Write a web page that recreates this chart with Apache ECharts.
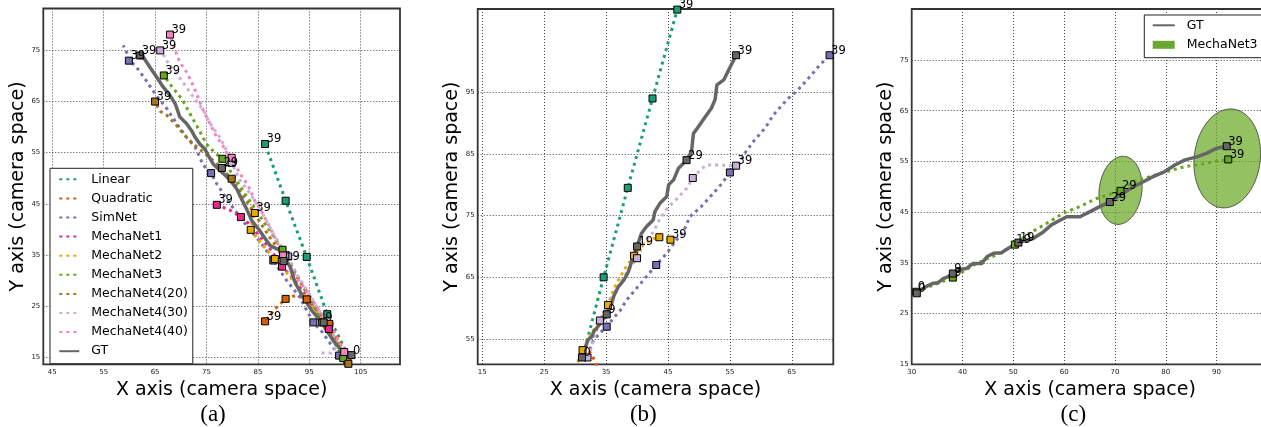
<!DOCTYPE html>
<html><head><meta charset="utf-8">
<script src="https://cdn.jsdelivr.net/npm/echarts@6/dist/echarts.min.js"></script>
<style>html,body{margin:0;padding:0;background:#fff}#c{width:1261px;height:427px}</style>
</head><body><div id="c"></div>
<script>
// ================= DATA =================
const seriesNames = ['Linear','Quadratic','SimNet','MechaNet1','MechaNet2','MechaNet3','MechaNet4(20)','MechaNet4(30)','MechaNet4(40)','GT'];
const panelCaptions = ['(a)','(b)','(c)'];
const xTitle = 'X axis (camera space)';
const yTitle = 'Y axis (camera space)';

// axis ranges and tick labels
const aXRange = [43.25, 112.65], aYRange = [13.6, 83.2];
const bXRange = [14.26, 71.7],  bYRange = [50.9, 108.5];
const cXRange = [30, 100.2],    cYRange = [15, 85.06];
const aXTicks = [45,55,65,75,85,95,105], aYTicks = [15,25,35,45,55,65,75];
const bXTicks = [15,25,35,45,55,65],     bYTicks = [55,65,75,85,95];
const cXTicks = [30,40,50,60,70,80,90],  cYTicks = [15,25,35,45,55,65,75];

// ---- panel (a): paths [x,y] and frame markers [x,y,frame]
const a_Linear_path = [[102.6,15.2],[100.6,19.3],[98.5,23.4],[94.5,34.6],[90.4,45.6],[86.4,56.7]];
const a_Linear_marks = [[98.5,23.4,9],[94.5,34.6,19],[90.4,45.6,29],[86.4,56.7,39]];
const a_Quadratic_path = [[102.5,15.0],[100.8,18.3],[98.9,21.5],[96.7,24.2],[94.5,26.3],[92.4,27.1],[90.4,26.4],[88.4,24.5],[86.4,22.0]];
const a_Quadratic_marks = [[98.9,21.5,9],[94.5,26.3,19],[90.4,26.4,29],[86.4,22.0,39]];
const a_SimNet_path = [[100.8,15.3],[99.2,17.5],[97.6,19.8],[95.8,21.8],[94.3,24.5],[93.2,26.7],[90.6,30.0],[88.0,33.9],[85.7,37.2],[82.5,41.1],[79.6,45.0],[77.0,48.9],[75.9,51.0],[74.4,52.5],[72.8,56.1],[71.1,58.0],[69.2,60.7],[67.3,63.6],[65.0,66.5],[63.0,69.5],[61.1,72.1],[59.9,73.0],[59.6,74.3],[58.8,76.0]];
const a_SimNet_marks = [[100.8,15.3,0],[95.8,21.8,9],[88.0,33.9,19],[75.9,51.0,29],[59.9,73.0,39]];
const a_MechaNet1_path = [[102.0,16.0],[100.5,18.2],[98.8,20.5],[96.5,24.0],[94.0,27.5],[91.8,30.5],[89.7,32.7],[87.5,36.0],[85.2,38.8],[83.4,41.0],[81.7,42.4],[79.5,43.8],[77.0,44.8]];
const a_MechaNet1_marks = [[98.8,20.5,9],[89.7,32.7,19],[81.7,42.4,29],[77.0,44.8,39]];
const a_MechaNet2_path = [[102.4,14.3],[100.6,17.6],[98.6,20.8],[96.4,23.8],[94.0,27.0],[91.2,30.8],[88.3,34.2],[86.0,36.8],[83.6,39.9],[83.9,41.5],[84.4,43.2]];
const a_MechaNet2_marks = [[102.4,14.3,0],[88.3,34.2,19],[83.6,39.9,29],[84.4,43.2,39]];
const a_MechaNet3_path = [[101.6,14.8],[99.7,18.2],[97.5,21.8],[95.2,26.2],[92.6,31.0],[89.8,36.0],[86.2,41.4],[82.2,47.4],[78.1,53.8],[76.6,55.0],[75.0,56.7],[73.4,59.7],[71.8,62.6],[70.2,65.5],[68.2,68.0],[66.7,70.1]];
const a_MechaNet3_marks = [[101.6,14.8,0],[97.5,21.8,9],[89.8,36.0,19],[78.1,53.8,29],[66.7,70.1,39]];
const a_MechaNet4_20_path = [[102.6,13.7],[100.6,17.8],[98.3,21.8],[95.6,26.0],[93.0,30.0],[90.3,34.6],[87.6,38.0],[85.0,42.0],[82.5,46.0],[79.9,49.9],[77.3,52.6],[74.4,55.1],[72.4,56.7],[70.5,58.7],[69.2,60.3],[67.3,62.3],[66.0,63.1],[65.0,65.0]];
const a_MechaNet4_20_marks = [[102.6,13.7,0],[79.9,49.9,29],[65.0,65.0,39]];
const a_MechaNet4_30_path = [[97.4,15.8],[99.3,15.8],[100.5,17.3],[99.6,19.5],[97.7,22.8],[95.8,26.0],[93.8,29.3],[92.5,31.3],[90.9,34.7],[88.0,39.1],[86.0,43.0],[83.5,47.0],[81.5,49.6],[79.9,53.0],[78.6,56.1],[77.6,58.0],[75.7,60.7],[74.4,63.3],[72.8,65.4],[71.5,67.2],[70.2,69.1],[67.6,72.4],[66.9,73.7],[66.0,75.0]];
const a_MechaNet4_30_marks = [[90.9,34.7,19],[79.9,53.0,29],[66.0,75.0,39]];
const a_MechaNet4_40_path = [[101.8,16.0],[101.0,17.6],[99.7,20.2],[98.4,22.2],[96.4,24.8],[94.5,28.0],[92.5,30.6],[89.9,34.9],[88.6,37.8],[87.3,40.4],[86.0,43.0],[84.4,45.6],[83.1,48.6],[81.5,50.9],[79.9,54.0],[78.9,55.1],[78.0,56.7],[77.0,58.0],[76.0,60.0],[75.0,62.0],[74.1,63.9],[73.1,66.5],[72.1,68.8],[71.1,70.8],[69.8,72.7],[68.9,75.0],[67.9,78.1]];
const a_MechaNet4_40_marks = [[101.8,16.0,0],[89.9,34.9,19],[79.9,54.0,29],[67.9,78.1,39]];
const a_GT_path = [[103.0,15.2],[102.3,15.6],[101.0,16.6],[99.7,18.2],[98.4,20.2],[97.1,22.2],[95.5,24.1],[93.8,26.7],[92.2,29.7],[91.3,32.6],[89.3,35.9],[87.4,36.8],[86.4,38.2],[85.1,40.1],[83.8,41.7],[82.8,44.0],[81.8,46.0],[80.9,47.9],[79.6,49.6],[78.3,50.9],[76.3,52.8],[75.3,54.5],[74.7,55.7],[73.7,56.7],[72.8,58.0],[72.1,59.3],[71.1,60.7],[69.8,62.0],[69.5,62.9],[68.9,64.6],[67.9,66.2],[66.6,67.8],[65.3,69.8],[64.0,71.7],[62.7,73.7],[62.1,74.0]];
const a_GT_marks = [[103.2,15.4,0],[97.8,21.8,9],[90.0,33.8,19],[78.0,52.0,29],[62.1,74.0,39]];

// ---- panel (b)
const b_Linear_path = [[31.6,53.5],[34.6,65.0],[38.5,79.5],[42.5,94.0],[46.5,108.4]];
const b_Linear_marks = [[34.6,65.0,9],[38.5,79.5,19],[42.5,94.0,29],[46.5,108.4,39]];
const b_Quadratic_path = [[31.6,54.0],[32.3,53.0],[32.9,52.0],[33.4,51.0],[33.9,50.0]];
const b_Quadratic_marks = [];
const b_SimNet_path = [[32.1,52.2],[32.7,54.4],[34.0,56.0],[35.1,57.0],[36.2,58.4],[37.2,59.5],[38.3,61.3],[39.9,63.2],[41.5,65.1],[43.1,67.0],[44.8,68.9],[46.4,71.1],[47.5,72.4],[48.5,74.8],[50.4,76.5],[52.3,78.6],[53.7,80.2],[55.0,82.0],[56.6,83.5],[57.4,85.1],[59.0,87.3],[60.7,89.2],[62.0,91.3],[64.2,93.8],[66.0,95.4],[67.9,97.5],[69.5,99.4],[71.1,101.0]];
const b_SimNet_marks = [[35.1,57.0,9],[43.1,67.0,19],[55.0,82.0,29],[71.1,101.0,39]];
const b_MechaNet2_path = [[30.4,51.2],[31.1,53.2],[32.3,55.3],[33.8,57.8],[35.3,60.5],[36.2,63.0],[37.0,64.6],[38.1,66.5],[39.5,68.5],[40.7,70.0],[41.8,70.8],[42.6,71.3],[43.6,71.5],[44.5,71.5],[45.4,71.1]];
const b_MechaNet2_marks = [[31.2,53.2,0],[35.3,60.5,9],[39.5,68.5,19],[43.6,71.5,29],[45.4,71.1,39]];
const b_MechaNet4_30_path = [[32.0,52.0],[32.6,53.5],[33.0,55.0],[34.0,58.0],[35.5,61.0],[37.2,64.0],[38.8,66.5],[40.0,68.1],[41.2,70.8],[42.6,72.3],[43.7,74.5],[44.8,76.1],[46.4,77.7],[48.0,79.4],[49.0,81.1],[50.2,82.4],[51.2,83.2],[53.4,83.2],[56.0,83.1]];
const b_MechaNet4_30_marks = [[32.0,52.0,0],[34.0,58.0,9],[40.0,68.1,19],[49.0,81.1,29],[56.0,83.1,39]];
const b_GT_path = [[31.1,52.0],[31.3,52.7],[32.1,54.9],[32.7,55.4],[33.0,56.2],[34.0,57.4],[35.1,59.0],[35.9,60.8],[36.3,62.1],[37.0,63.5],[37.9,64.6],[38.6,65.9],[39.1,67.5],[40.0,70.0],[40.7,72.1],[41.5,73.2],[42.6,74.3],[42.9,75.7],[43.7,77.0],[44.8,78.1],[45.1,80.0],[45.9,80.8],[46.7,82.7],[48.0,84.0],[48.8,85.4],[49.1,88.3],[49.9,89.4],[51.0,91.0],[52.0,92.4],[52.6,93.8],[52.9,96.2],[54.0,97.0],[54.8,98.6],[56.0,101.0]];
const b_GT_marks = [[31.1,52.0,0],[35.1,59.0,9],[40.0,70.0,19],[48.0,84.0,29],[56.0,101.0,39]];

// ---- panel (c)
const c_MechaNet3_path = [[30.9,29.3],[38.1,32.1],[42.8,34.9],[47.4,36.9],[50.3,38.6],[52.6,40.5],[56.6,42.8],[59.8,44.8],[63.1,46.1],[66.4,47.7],[71.1,49.2],[73.6,51.0],[76.9,52.0],[80.2,53.0],[83.8,54.0],[86.1,54.3],[88.7,54.8],[92.3,55.4]];
const c_MechaNet3_marks = [[30.9,29.3,0],[38.1,32.1,9],[50.3,38.6,19],[71.1,49.2,29],[92.3,55.4,39]];
const c_GT_path = [[31.0,29.0],[31.6,29.6],[33.0,30.4],[34.3,31.0],[35.2,31.1],[36.2,31.9],[37.2,32.3],[38.1,32.9],[39.5,33.7],[40.8,33.9],[42.1,34.9],[43.8,34.9],[44.8,36.2],[46.1,36.9],[47.7,37.0],[48.7,37.7],[51.0,39.0],[53.9,39.8],[55.9,41.1],[57.5,42.5],[59.2,43.4],[60.5,44.1],[63.1,44.1],[65.1,45.1],[67.0,46.1],[69.0,47.0],[71.6,48.7],[73.6,50.0],[75.6,51.0],[77.5,52.0],[79.8,53.0],[81.8,54.3],[83.8,55.3],[86.1,55.9],[88.0,56.6],[90.0,57.6],[92.0,58.0]];
const c_GT_marks = [[31.0,29.0,0],[38.1,32.9,9],[51.0,39.0,19],[69.0,47.0,29],[92.0,58.0,39]];
// uncertainty ellipses: center x, center y, semi-axis x, semi-axis y, tilt (deg)
const c_ellipseCX = [71.1, 92.1];
const c_ellipseCY = [49.3, 55.6];
const c_ellipseRX = [4.2, 6.5];
const c_ellipseRY = [6.75, 9.8];
const c_ellipseTilt = [-7, -7];

// ================= STYLE =================
const colors = {'Linear':'#1b9e77','Quadratic':'#d95f02','SimNet':'#7570b3','MechaNet1':'#e7298a','MechaNet2':'#e6ab02','MechaNet3':'#66a61e','MechaNet4(20)':'#a6761d','MechaNet4(30)':'#c8b0d8','MechaNet4(40)':'#f781bf','GT':'#666666'};
const FONT = 'DejaVu Sans';

const panels = [
  {labelAll:false, list:[
    ['Linear',a_Linear_path,a_Linear_marks],['Quadratic',a_Quadratic_path,a_Quadratic_marks],['SimNet',a_SimNet_path,a_SimNet_marks],
    ['MechaNet1',a_MechaNet1_path,a_MechaNet1_marks],['MechaNet2',a_MechaNet2_path,a_MechaNet2_marks],['MechaNet3',a_MechaNet3_path,a_MechaNet3_marks],
    ['MechaNet4(20)',a_MechaNet4_20_path,a_MechaNet4_20_marks],['MechaNet4(30)',a_MechaNet4_30_path,a_MechaNet4_30_marks],['MechaNet4(40)',a_MechaNet4_40_path,a_MechaNet4_40_marks],
    ['GT',a_GT_path,a_GT_marks]]},
  {labelAll:false, list:[
    ['Linear',b_Linear_path,b_Linear_marks],['Quadratic',b_Quadratic_path,b_Quadratic_marks],['SimNet',b_SimNet_path,b_SimNet_marks],
    ['MechaNet2',b_MechaNet2_path,b_MechaNet2_marks],['MechaNet4(30)',b_MechaNet4_30_path,b_MechaNet4_30_marks],['GT',b_GT_path,b_GT_marks]]},
  {labelAll:true, list:[
    ['MechaNet3',c_MechaNet3_path,c_MechaNet3_marks],['GT',c_GT_path,c_GT_marks]]}
];

const series = [];
panels.forEach((p, gi)=>{
  p.list.forEach(([name, path])=>{
    const isGT = name==='GT';
    series.push({type:'line', name, xAxisIndex:gi, yAxisIndex:gi, data:path, symbol:'none', clip:true, z:2,
      silent:true, animation:false,
      lineStyle:{color:colors[name], width:isGT?3.5:3, type:isGT?'solid':[3,4], cap:'butt', join:'round'}});
  });
});
panels.forEach((p, gi)=>{
  p.list.forEach(([name, path, marks])=>{
    const isGT = name==='GT';
    series.push({type:'scatter', name, xAxisIndex:gi, yAxisIndex:gi, z:3, silent:true, animation:false, clip:false,
      symbol:'rect', symbolSize:7,
      itemStyle:{color:colors[name], borderColor:'#000', borderWidth:1, opacity:1},
      data: marks.map(m=>({value:[m[0],m[1]], label:{show: p.labelAll || isGT || m[2]===39, formatter:String(m[2])}})),
      label:{position:[5.5,5.5], align:'left', verticalAlign:'bottom', fontFamily:FONT, fontSize:11.5, color:'#000'}
    });
  });
});
// ellipses (drawn under the lines via z)
series.push({
  type:'custom', name:'MechaNet3', xAxisIndex:2, yAxisIndex:2, z:1, silent:true, animation:false, clip:true,
  data: c_ellipseCX.map((cx,i)=>[cx, c_ellipseCY[i], c_ellipseRX[i], c_ellipseRY[i], c_ellipseTilt[i]]),
  encode:{x:0,y:1},
  renderItem:function(params, api){
    const cx=api.value(0), cy=api.value(1), rx=api.value(2), ry=api.value(3), phi=api.value(4)*Math.PI/180;
    const pts=[];
    for(let k=0;k<96;k++){
      const t=k/96*2*Math.PI, dx=rx*Math.cos(t), dy=ry*Math.sin(t);
      pts.push(api.coord([cx+dx*Math.cos(phi)-dy*Math.sin(phi), cy+dx*Math.sin(phi)+dy*Math.cos(phi)]));
    }
    return {type:'polygon', shape:{points:pts}, style:{fill:'rgba(102,166,30,0.7)', stroke:'#3a3a3a', lineWidth:0.8}};
  }
});

function xAx(gi, r, ticks){
  return {type:'value', gridIndex:gi, min:r[0], max:r[1], name:xTitle, nameLocation:'middle', nameGap:12,
    nameTextStyle:{fontFamily:FONT, fontSize:19, color:'#000'},
    axisLine:{show:false}, axisTick:{show:false, customValues:ticks},
    axisLabel:{customValues:ticks, fontFamily:FONT, fontSize:7, color:'#222', margin:4, showMinLabel:true, showMaxLabel:true},
    splitLine:{show:true, lineStyle:{color:'#444', width:1, type:[1,2]}}};
}
function yAx(gi, r, ticks){
  return {type:'value', gridIndex:gi, min:r[0], max:r[1], name:yTitle, nameLocation:'middle', nameRotate:90, nameGap:16,
    nameTextStyle:{fontFamily:FONT, fontSize:19, color:'#000'},
    axisLine:{show:false}, axisTick:{show:false, customValues:ticks},
    axisLabel:{customValues:ticks, fontFamily:FONT, fontSize:7, color:'#222', margin:3, showMinLabel:true, showMaxLabel:true},
    splitLine:{show:true, lineStyle:{color:'#444', width:1, type:[1,2]}}};
}
const gridBase = {show:true, borderColor:'#333', borderWidth:1.8, backgroundColor:'rgba(0,0,0,0)', containLabel:false, outerBoundsMode:'none'};

const option = {
  backgroundColor:'#fff',
  animation:false,
  grid:[
    Object.assign({left:43.3, top:8.5, width:356.7, height:355.8}, gridBase),
    Object.assign({left:477.7, top:9, width:355.6, height:355.3}, gridBase),
    Object.assign({left:911.7, top:9, width:356.7, height:355.3}, gridBase)
  ],
  xAxis:[xAx(0,aXRange,aXTicks), xAx(1,bXRange,bXTicks), xAx(2,cXRange,cXTicks)],
  yAxis:[yAx(0,aYRange,aYTicks), yAx(1,bYRange,bYTicks), yAx(2,cYRange,cYTicks)],
  legend:[
    {orient:'vertical', left:50, top:168.3, data:seriesNames, itemWidth:20, itemHeight:10, itemGap:6.1,
     padding:[4.5,5,6,8.3], borderColor:'#222', borderWidth:1, backgroundColor:'#fff', selectedMode:false,
     itemStyle:{opacity:0}, textStyle:{fontFamily:FONT, fontSize:12.5, color:'#000', padding:[0,0,0,7]}},
    {orient:'vertical', left:1144.3, top:15, itemWidth:22, itemHeight:8, itemGap:6.5,
     data:['GT', {name:'MechaNet3', icon:'rect', itemStyle:{color:'#6aa72e', opacity:1, borderWidth:0}}],
     padding:[3.8,12,6.4,7.4], borderColor:'#222', borderWidth:1, backgroundColor:'#fff', selectedMode:false,
     itemStyle:{opacity:0}, textStyle:{fontFamily:FONT, fontSize:12.5, color:'#000', padding:[0,0,0,7]}}
  ],
  graphic: panelCaptions.map((t,i)=>({type:'text', x:[213,643.3,1073.3][i], y:415, z:10,
    style:{text:t, fill:'#000', font:'23px "Liberation Serif"', align:'center', verticalAlign:'middle', textAlign:'center', textVerticalAlign:'middle'}})),
  series
};
const chart = echarts.init(document.getElementById('c'), null, {renderer:'canvas', width:1261, height:427});
chart.setOption(option);
</script></body></html>
